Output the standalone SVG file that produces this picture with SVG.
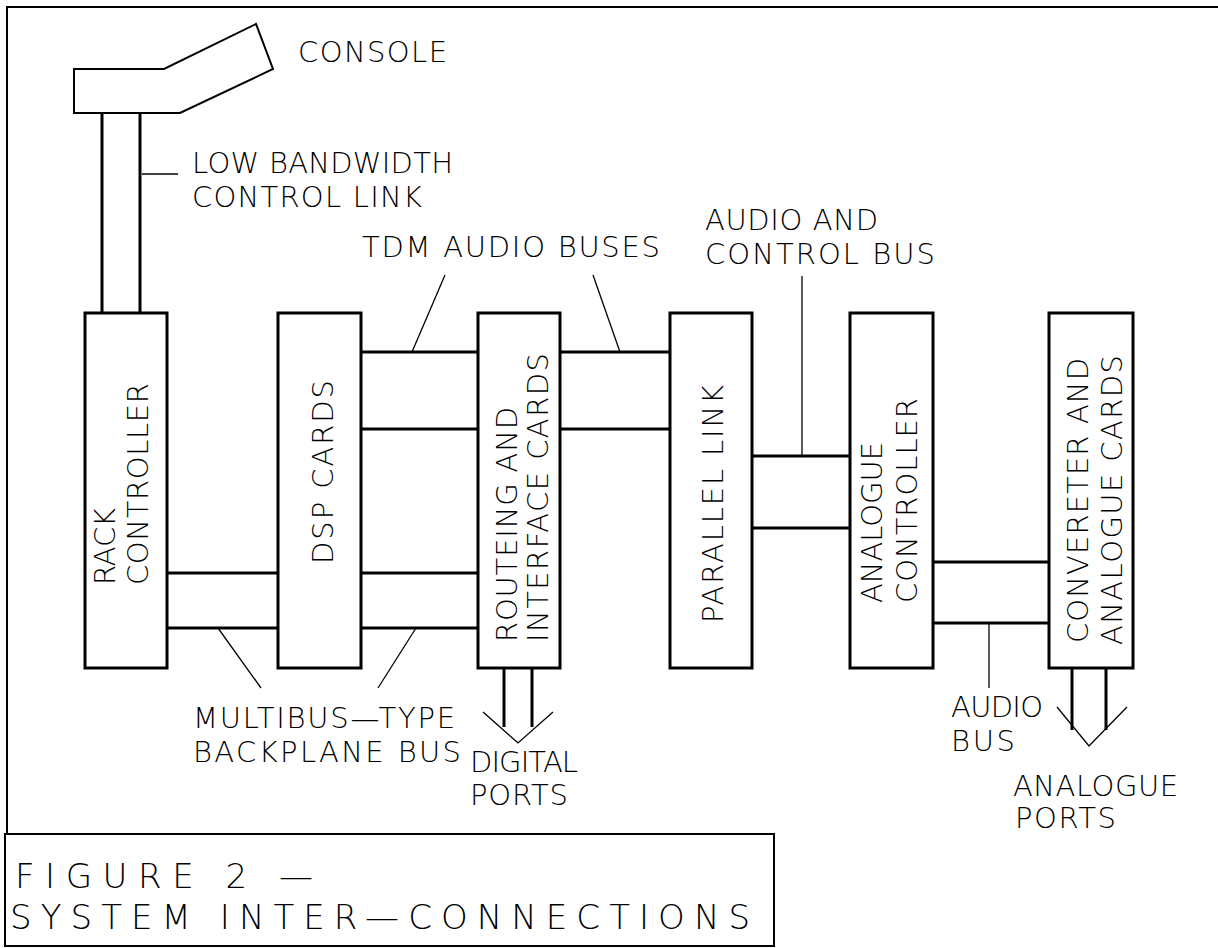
<svg xmlns="http://www.w3.org/2000/svg" width="1218" height="948" viewBox="0 0 1218 948">
<style>
  .bg { fill: #ffffff; }
  .frame { fill: none; stroke: #000; stroke-width: 2; }
  .box { fill: #ffffff; stroke: #000; stroke-width: 3; }
  .bus { fill: none; stroke: #000; stroke-width: 3; }
  .lead { fill: none; stroke: #000; stroke-width: 1.3; }
  .thin { fill: none; stroke: #000; stroke-width: 2; }
  text { font-family: "DejaVu Sans", "Liberation Sans", sans-serif; font-weight: 200; font-size: 29px; fill: #000; }
  .big { font-size: 34px; }
</style>
<rect class="bg" x="0" y="0" width="1218" height="948"/>
<g id="frame">
  <polyline class="frame" points="1218,7 7,7 7,834"/>
</g>
<g id="figure-caption">
  <rect class="frame" x="5" y="834" width="769" height="112"/>
  <text class="big" x="15" y="888" textLength="298" lengthAdjust="spacing">FIGURE 2 —</text>
  <text class="big" x="10" y="929" textLength="740" lengthAdjust="spacing">SYSTEM INTER—CONNECTIONS</text>
</g>
<g id="connectors">
  <!-- control link -->
  <line class="bus" x1="102" y1="113" x2="102" y2="313"/>
  <line class="bus" x1="140" y1="113" x2="140" y2="313"/>
  <!-- rack - dsp backplane -->
  <line class="bus" x1="167" y1="573" x2="278" y2="573"/>
  <line class="bus" x1="167" y1="628" x2="278" y2="628"/>
  <!-- dsp - routeing -->
  <line class="bus" x1="361" y1="352" x2="478" y2="352"/>
  <line class="bus" x1="361" y1="429" x2="478" y2="429"/>
  <line class="bus" x1="361" y1="573" x2="478" y2="573"/>
  <line class="bus" x1="361" y1="628" x2="478" y2="628"/>
  <!-- routeing - parallel -->
  <line class="bus" x1="560" y1="352" x2="670" y2="352"/>
  <line class="bus" x1="560" y1="429" x2="670" y2="429"/>
  <!-- parallel - analogue controller -->
  <line class="bus" x1="752" y1="456" x2="850" y2="456"/>
  <line class="bus" x1="752" y1="528" x2="850" y2="528"/>
  <!-- analogue controller - converter -->
  <line class="bus" x1="933" y1="562" x2="1049" y2="562"/>
  <line class="bus" x1="933" y1="623" x2="1049" y2="623"/>
  <!-- leaders -->
  <line class="lead" x1="142" y1="174" x2="178" y2="174"/>
  <line class="lead" x1="445" y1="275" x2="412" y2="352"/>
  <line class="lead" x1="593" y1="275" x2="620" y2="352"/>
  <line class="lead" x1="802" y1="276" x2="802" y2="456"/>
  <line class="lead" x1="218" y1="628" x2="261" y2="688"/>
  <line class="lead" x1="416" y1="628" x2="378" y2="688"/>
  <line class="lead" x1="989" y1="623" x2="989" y2="688"/>
  <!-- digital ports arrow -->
  <line class="bus" x1="504" y1="667" x2="504" y2="727"/>
  <line class="bus" x1="532" y1="667" x2="532" y2="727"/>
  <polyline class="lead" points="483,712 518,743 553,712"/>
  <!-- analogue ports arrow -->
  <line class="bus" x1="1072" y1="667" x2="1072" y2="730"/>
  <line class="bus" x1="1106" y1="667" x2="1106" y2="730"/>
  <polyline class="lead" points="1057,707 1089,746 1127,707"/>
</g>
<g id="console">
  <polygon class="thin" points="74,69 164,69 256,24 273,69 180,113 74,113" fill="#fff"/>
  <text x="298" y="62" textLength="149" lengthAdjust="spacing">CONSOLE</text>
</g>
<g id="rack-controller">
  <rect class="box" x="85" y="313" width="82" height="355"/>
  <text transform="translate(115,585) rotate(-90)" textLength="77" lengthAdjust="spacing">RACK</text>
  <text transform="translate(148,585) rotate(-90)" textLength="202" lengthAdjust="spacing">CONTROLLER</text>
</g>
<g id="dsp-cards">
  <rect class="box" x="278" y="313" width="83" height="355"/>
  <text transform="translate(333,564) rotate(-90)" textLength="184" lengthAdjust="spacing">DSP CARDS</text>
</g>
<g id="routeing-cards">
  <rect class="box" x="478" y="313" width="82" height="355"/>
  <text transform="translate(517,642) rotate(-90)" textLength="235" lengthAdjust="spacing">ROUTEING AND</text>
  <text transform="translate(548,642) rotate(-90)" textLength="289" lengthAdjust="spacing">INTERFACE CARDS</text>
</g>
<g id="parallel-link">
  <rect class="box" x="670" y="313" width="82" height="355"/>
  <text transform="translate(723,623) rotate(-90)" textLength="238" lengthAdjust="spacing">PARALLEL LINK</text>
</g>
<g id="analogue-controller">
  <rect class="box" x="850" y="313" width="83" height="355"/>
  <text transform="translate(882,603) rotate(-90)" textLength="161" lengthAdjust="spacing">ANALOGUE</text>
  <text transform="translate(917,603) rotate(-90)" textLength="205" lengthAdjust="spacing">CONTROLLER</text>
</g>
<g id="converter-cards">
  <rect class="box" x="1049" y="313" width="84" height="355"/>
  <text transform="translate(1088,643) rotate(-90)" textLength="285" lengthAdjust="spacing">CONVERETER AND</text>
  <text transform="translate(1122,645) rotate(-90)" textLength="290" lengthAdjust="spacing">ANALOGUE CARDS</text>
</g>
<g id="labels">
  <text x="192" y="173" textLength="261" lengthAdjust="spacing">LOW BANDWIDTH</text>
  <text x="192" y="207" textLength="230" lengthAdjust="spacing">CONTROL LINK</text>
  <text x="362" y="257" textLength="298" lengthAdjust="spacing">TDM AUDIO BUSES</text>
  <text x="705" y="230" textLength="173" lengthAdjust="spacing">AUDIO AND</text>
  <text x="705" y="264" textLength="230" lengthAdjust="spacing">CONTROL BUS</text>
  <text x="193" y="728" textLength="262" lengthAdjust="spacing">MULTIBUS—TYPE</text>
  <text x="193" y="762" textLength="268" lengthAdjust="spacing">BACKPLANE BUS</text>
  <text x="470" y="772" textLength="108" lengthAdjust="spacing">DIGITAL</text>
  <text x="470" y="805" textLength="98" lengthAdjust="spacing">PORTS</text>
  <text x="951" y="717" textLength="92" lengthAdjust="spacing">AUDIO</text>
  <text x="951" y="751" textLength="64" lengthAdjust="spacing">BUS</text>
  <text x="1013" y="796" textLength="165" lengthAdjust="spacing">ANALOGUE</text>
  <text x="1015" y="828" textLength="101" lengthAdjust="spacing">PORTS</text>
</g>
</svg>
